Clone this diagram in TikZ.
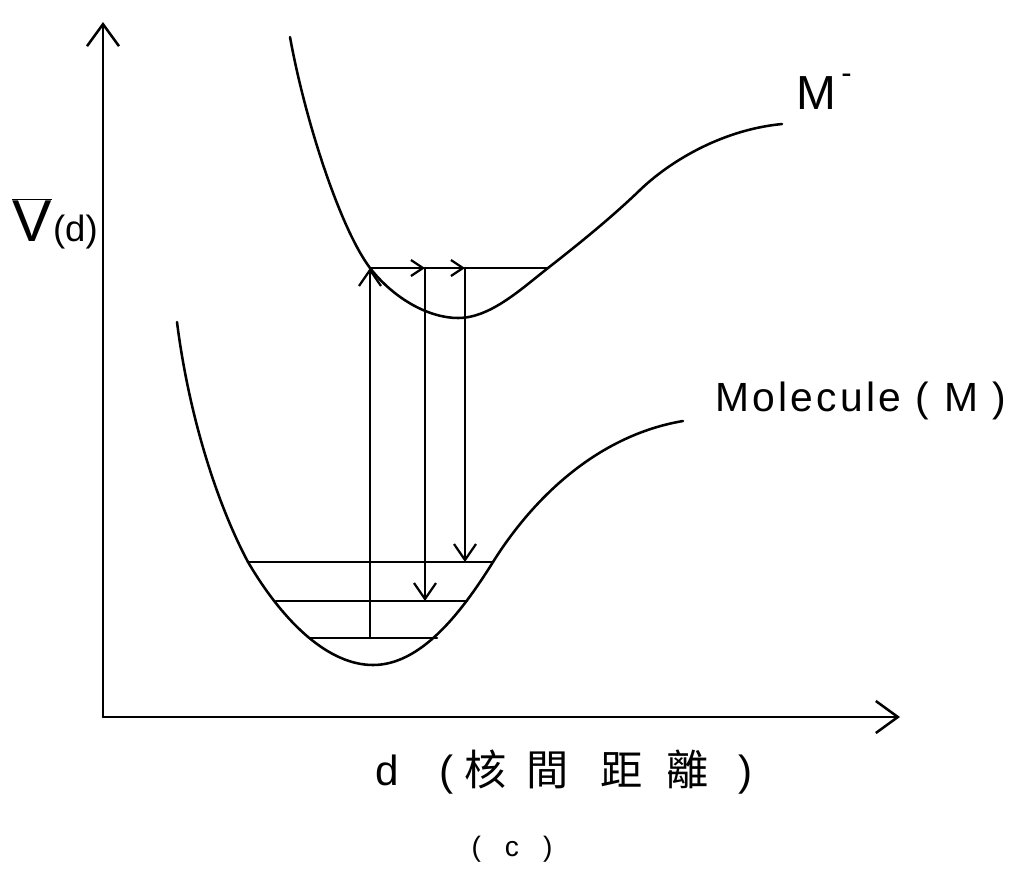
\documentclass[tikz,border=0pt]{standalone}
\usepackage{fontspec}
\setmainfont{Liberation Sans}
\newfontfamily\cjk{Noto Sans CJK TC}
\newfontfamily\spaced[LetterSpace=8]{Liberation Sans}
\usetikzlibrary{arrows.meta}
\begin{document}
\begin{tikzpicture}[x=0.025cm,y=-0.025cm,
  ln/.style={line width=1.8pt,line cap=round,line join=round},
  axis/.style={ln,-{Straight Barb[length=0.55cm,width=0.8cm,line width=1.8pt]}},
  varr/.style={ln,-{Straight Barb[length=0.4cm,width=0.55cm,line width=1.6pt]}},
  harr/.style={ln,-{Straight Barb[length=0.3cm,width=0.4cm,line width=1.6pt]}},
  lbl/.style={inner sep=0pt}]
\useasboundingbox (0,0) rectangle (1013,870);
% axes
\coordinate (O) at (103,717);
\coordinate (Ytop) at (103,22);
\coordinate (Xend) at (900,717);
\draw[axis] (O) -- (Ytop);
\draw[axis] (O) -- (Xend);
% transition points
\coordinate (A) at (370,268); \coordinate (B) at (425,268);
\coordinate (C) at (465,268); \coordinate (D) at (548,268);
\coordinate (A1) at (370,638); \coordinate (B1) at (425,601); \coordinate (C1) at (465,562);
% upper curve M^-
\draw[ln] (290,37) .. controls (305,120) and (340,228) .. (A)
  .. controls (395,300) and (430,318) .. (458,318)
  .. controls (490,318) and (520,290) .. (D)
  .. controls (580,243) and (612,217) .. (640,190)
  .. controls (668,163) and (720,130) .. (782,124);
% lower curve M
\draw[ln] (177,322) .. controls (188,410) and (215,500) .. (248,562)
  .. controls (285,625) and (330,665) .. (373,665)
  .. controls (420,665) and (460,615) .. (493,562)
  .. controls (535,495) and (600,435) .. (683,421);
% vibrational levels
\coordinate (L1a) at (248,562); \coordinate (L1b) at (493,562);
\coordinate (L2a) at (276,601); \coordinate (L2b) at (467,601);
\coordinate (L3a) at (310,638); \coordinate (L3b) at (437,638);
\draw[ln] (L1a) -- (L1b);
\draw[ln] (L2a) -- (L2b);
\draw[ln] (L3a) -- (L3b);
% transitions
\draw[varr] (A1) -- (A);
\draw[harr] (A) -- (B);
\draw[harr] (B) -- (C);
\draw[ln] (C) -- (D);
\draw[varr] (B) -- (B1);
\draw[varr] (C) -- (C1);
% labels
\node[lbl] (vlab) at (55,224) {$\overline{\hbox{\fontsize{42}{42}\selectfont V}}$\hspace{1pt}{\fontsize{26}{26}\selectfont (d)}};
\node[lbl,anchor=west] (mminus) at (796,92) {\fontsize{34}{34}\selectfont M\raisebox{0.55em}{\fontsize{22}{22}\selectfont\,-}};
\node[lbl,anchor=west] (mol) at (715,401) {\spaced\fontsize{29}{29}\selectfont Molecule ( M )};
\node[lbl,anchor=west] (xlab) at (375,772) {\fontsize{30}{30}\selectfont d\hspace{1.03cm}(\hspace{0.25cm}{\cjk 核}\hspace{0.5cm}{\cjk 間}\hspace{0.8cm}{\cjk 距}\hspace{0.6cm}{\cjk 離}\hspace{0.75cm})};
\node[lbl] (cap) at (512,849) {\fontsize{20}{20}\selectfont (\hspace{0.6cm}c\hspace{0.6cm})};
\end{tikzpicture}
\end{document}
